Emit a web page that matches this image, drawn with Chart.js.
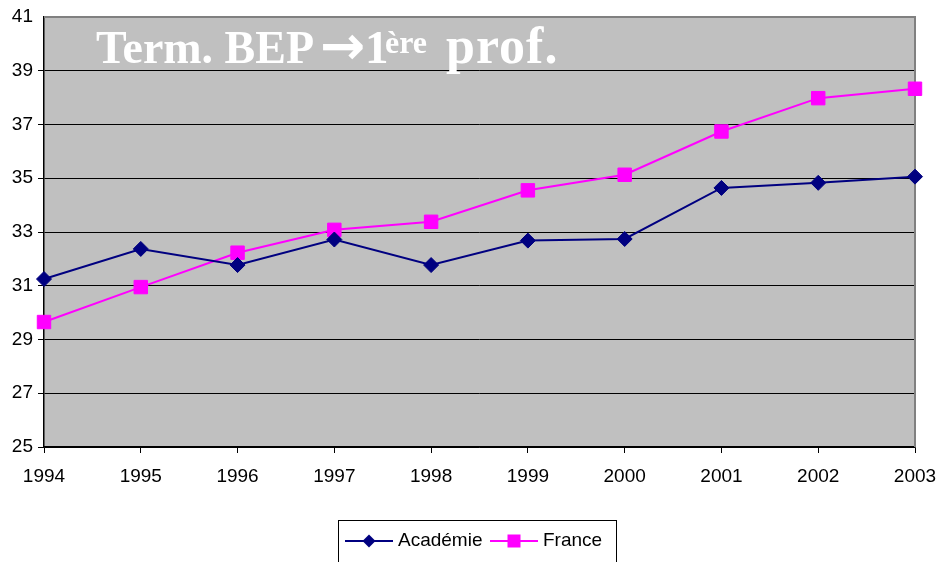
<!DOCTYPE html>
<html>
<head>
<meta charset="utf-8">
<script src="https://cdn.jsdelivr.net/npm/chart.js@4.4.1/dist/chart.umd.min.js"></script>
<style>
  html, body { margin: 0; padding: 0; background: #ffffff; }
  canvas { display: block; }
</style>
</head>
<body>
<canvas id="c" width="939" height="562"></canvas>
<script>
const years = ['1994','1995','1996','1997','1998','1999','2000','2001','2002','2003'];
const academie = [31.25, 32.37, 31.77, 32.72, 31.77, 32.68, 32.74, 34.64, 34.83, 35.06];
const france = [29.65, 30.95, 32.23, 33.08, 33.38, 34.55, 35.13, 36.74, 37.98, 38.33];
const seriesNames = ['Académie', 'France'];
const yMin = 25, yMax = 41, yStep = 2;

const NAVY = '#000080';
const MAGENTA = '#FF00FF';
const SERIF = '"Liberation Serif", "Times New Roman", serif';

const bgPlugin = {
  id: 'bgPlugin',
  beforeDraw(chart) {
    const a = chart.chartArea, ctx = chart.ctx;
    ctx.save();
    ctx.fillStyle = '#C0C0C0';
    ctx.fillRect(a.left, a.top, a.right - a.left, a.bottom - a.top);
    ctx.restore();
  },
  beforeDatasetsDraw(chart) {
    const a = chart.chartArea, ctx = chart.ctx;
    ctx.save();
    ctx.strokeStyle = '#808080';
    ctx.lineWidth = 2;
    ctx.beginPath();
    ctx.moveTo(a.left, a.top);
    ctx.lineTo(a.right, a.top);
    ctx.lineTo(a.right, a.bottom);
    ctx.stroke();
    // title
    ctx.fillStyle = '#FFFFFF';
    ctx.textBaseline = 'alphabetic';
    ctx.textAlign = 'left';
    const base = 63;
    ctx.font = 'bold 46px ' + SERIF;
    ctx.fillText('Term. BEP', 96, base);
    ctx.font = 'bold 54px "DejaVu Sans", sans-serif';
    ctx.fillText('\u2192', 320, base + 1);
    ctx.font = 'bold 47px ' + SERIF;
    ctx.fillText('1', 365, base);
    ctx.font = 'bold 32px ' + SERIF;
    ctx.fillText('ère', 385, base - 10);
    ctx.font = 'bold 52px ' + SERIF;
    try { ctx.letterSpacing = '1px'; } catch (e) {}
    ctx.fillText('prof.', 446, base);
    try { ctx.letterSpacing = '0px'; } catch (e) {}
    ctx.restore();
  },
  afterDraw(chart) {
    const ctx = chart.ctx;
    ctx.save();
    const bx = 338, by = 520, bw = 278, bh = 50;
    ctx.strokeStyle = '#000000';
    ctx.lineWidth = 1;
    ctx.strokeRect(bx + 0.5, by + 0.5, bw, bh);
    ctx.font = '19px "Liberation Sans", Arial, sans-serif';
    ctx.textBaseline = 'middle';
    const cy = 541;
    const items = [
      {name: seriesNames[0], color: NAVY, style: 'diamond', x0: 345},
      {name: seriesNames[1], color: MAGENTA, style: 'square', x0: 490}
    ];
    items.forEach(it => {
      ctx.strokeStyle = it.color;
      ctx.lineWidth = 2;
      ctx.beginPath();
      ctx.moveTo(it.x0, cy);
      ctx.lineTo(it.x0 + 48, cy);
      ctx.stroke();
      ctx.fillStyle = it.color;
      const mx = it.x0 + 24;
      if (it.style === 'diamond') {
        ctx.beginPath();
        ctx.moveTo(mx - 6.5, cy); ctx.lineTo(mx, cy - 6.5);
        ctx.lineTo(mx + 6.5, cy); ctx.lineTo(mx, cy + 6.5);
        ctx.closePath(); ctx.fill();
      } else {
        ctx.fillRect(mx - 6.5, cy - 6.5, 13, 13);
      }
      ctx.fillStyle = '#000000';
      ctx.fillText(it.name, it.x0 + 53, cy);
    });
    ctx.restore();
  }
};

new Chart(document.getElementById('c'), {
  type: 'line',
  data: {
    labels: years,
    datasets: [
      {
        label: seriesNames[0], data: academie,
        borderColor: NAVY, backgroundColor: NAVY, borderWidth: 2,
        pointStyle: 'rectRot', pointRadius: 7.5, pointHoverRadius: 7.5,
        pointBorderColor: NAVY, pointBackgroundColor: NAVY, pointBorderWidth: 1,
        tension: 0, clip: false, fill: false
      },
      {
        label: seriesNames[1], data: france,
        borderColor: MAGENTA, backgroundColor: MAGENTA, borderWidth: 2,
        pointStyle: 'rect', pointRadius: 9.5, pointHoverRadius: 9.5,
        pointBorderColor: MAGENTA, pointBackgroundColor: MAGENTA, pointBorderWidth: 1,
        tension: 0, clip: false, fill: false
      }
    ]
  },
  options: {
    responsive: false,
    devicePixelRatio: 1,
    animation: false,
    events: [],
    layout: { padding: { top: 17, right: 24, left: 0, bottom: 0 } },
    plugins: { legend: { display: false }, title: { display: false }, tooltip: { enabled: false } },
    scales: {
      x: {
        type: 'category',
        offset: false,
        grid: { display: true, drawOnChartArea: false, drawTicks: true, tickLength: 6, color: '#000000', lineWidth: 1 },
        border: { display: true, color: '#000000', width: 1.5 },
        ticks: { color: '#000000', font: { family: '"Liberation Sans", Arial, sans-serif', size: 19 }, padding: 12, maxRotation: 0, autoSkip: false },
        afterFit(s) { s.height = 115; s.paddingRight = 0; s.paddingLeft = 0; }
      },
      y: {
        min: yMin, max: yMax,
        grid: {
          drawOnChartArea: true, drawTicks: true, tickLength: 6, lineWidth: 1,
          color: (c) => (c.tick && c.tick.value === yMax) ? 'rgba(0,0,0,0)' : '#000000'
        },
        border: { display: true, color: '#000000', width: 1.5 },
        ticks: { stepSize: yStep, color: '#000000', font: { family: '"Liberation Sans", Arial, sans-serif', size: 19 }, padding: 5 },
        afterFit(s) { s.width = 44; s.paddingTop = 0; s.paddingBottom = 0; }
      }
    }
  },
  plugins: [bgPlugin]
});
</script>
</body>
</html>
